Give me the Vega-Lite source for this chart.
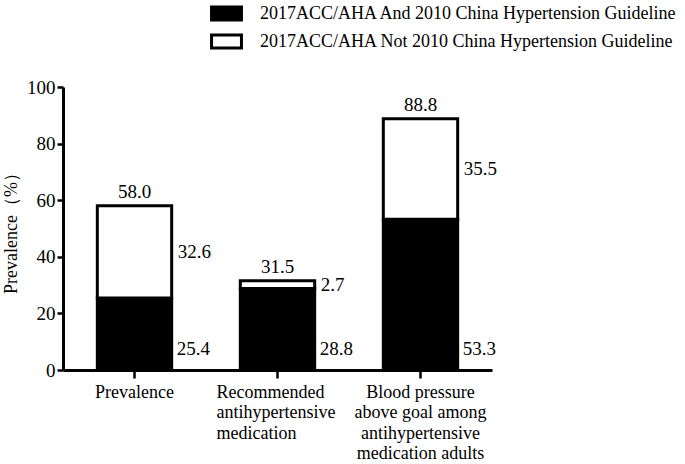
{
  "$schema": "https://vega.github.io/schema/vega-lite/v6.json",
  "width": 429,
  "height": 283,
  "autosize": {"type": "none"},
  "padding": {"left": 63, "top": 87, "right": 193, "bottom": 94},
  "background": "white",
  "config": {
    "font": "Liberation Serif",
    "view": {"stroke": null},
    "axis": {"grid": false, "labelFont": "Liberation Serif", "titleFont": "Liberation Serif"},
    "legend": {"labelFont": "Liberation Serif"},
    "text": {"font": "Liberation Serif"}
  },
  "data": {
    "values": [
      {"cat": "Prevalence", "series": "2017ACC/AHA And 2010 China Hypertension Guideline", "value": 25.4},
      {"cat": "Prevalence", "series": "2017ACC/AHA Not 2010 China Hypertension Guideline", "value": 32.6},
      {"cat": "Recommended|antihypertensive|medication", "series": "2017ACC/AHA And 2010 China Hypertension Guideline", "value": 28.8},
      {"cat": "Recommended|antihypertensive|medication", "series": "2017ACC/AHA Not 2010 China Hypertension Guideline", "value": 2.7},
      {"cat": "Blood pressure|above goal among|antihypertensive|medication adults", "series": "2017ACC/AHA And 2010 China Hypertension Guideline", "value": 53.3},
      {"cat": "Blood pressure|above goal among|antihypertensive|medication adults", "series": "2017ACC/AHA Not 2010 China Hypertension Guideline", "value": 35.5}
    ]
  },
  "encoding": {
    "x": {
      "field": "cat",
      "type": "nominal",
      "sort": null,
      "scale": {"paddingInner": 0.48, "paddingOuter": 0.24},
      "axis": {
        "title": null,
        "labelAngle": 0,
        "labelExpr": "split(datum.label, '|')",
        "labelFontSize": 18,
        "labelLineHeight": 20.5,
        "labelColor": "black",
        "labelPadding": 5,
        "labelBaseline": "top",
        "labelAlign": {"condition": {"test": "indexof(datum.value, 'Recommended') == 0", "value": "left"}, "value": "center"},
        "labelOffset": {"condition": {"test": "indexof(datum.value, 'Recommended') == 0", "value": -61}, "value": 0},
        "domainColor": "black",
        "domainWidth": 3,
        "tickColor": "black",
        "tickWidth": 2.5,
        "tickSize": 8
      }
    }
  },
  "layer": [
    {
      "mark": {"type": "bar", "stroke": "black", "strokeWidth": 3},
      "encoding": {
        "y": {
          "field": "value",
          "type": "quantitative",
          "stack": "zero",
          "scale": {"domain": [0, 100], "nice": false},
          "axis": {
            "title": "Prevalence（%）",
            "titleFontSize": 18,
            "titleFontWeight": "normal",
            "titleColor": "black",
            "titlePadding": 6,
            "values": [0, 20, 40, 60, 80, 100],
            "labelFontSize": 19,
            "labelColor": "black",
            "labelPadding": 2,
            "domainColor": "black",
            "domainWidth": 3,
            "tickColor": "black",
            "tickWidth": 2.5,
            "tickSize": 6
          }
        },
        "fill": {
          "field": "series",
          "type": "nominal",
          "scale": {
            "domain": ["2017ACC/AHA And 2010 China Hypertension Guideline", "2017ACC/AHA Not 2010 China Hypertension Guideline"],
            "range": ["black", "white"]
          },
          "legend": {
            "title": null,
            "orient": "none",
            "legendX": 149,
            "legendY": -88,
            "direction": "vertical",
            "labelFontSize": 18,
            "labelColor": "black",
            "labelOffset": 19,
            "labelLimit": 600,
            "rowPadding": 1,
            "symbolType": "M-1.15,-0.5H1.15V0.5H-1.15Z",
            "symbolSize": 676,
            "symbolStrokeColor": "black",
            "symbolStrokeWidth": 3,
            "symbolOpacity": 1
          }
        },
        "order": {"field": "series", "sort": "ascending"}
      }
    },
    {
      "transform": [
        {"stack": "value", "groupby": ["cat"], "sort": [{"field": "series", "order": "ascending"}], "as": ["v0", "v1"]},
        {"calculate": "(datum.v0 + datum.v1) / 2", "as": "mid"},
        {"filter": "indexof(datum.series, 'Not') >= 0"}
      ],
      "mark": {"type": "text", "align": "left", "baseline": "middle", "dx": 6, "fontSize": 19, "font": "Liberation Serif", "color": "black"},
      "encoding": {
        "x": {"field": "cat", "type": "nominal", "sort": null, "bandPosition": 1},
        "y": {"field": "mid", "type": "quantitative"},
        "text": {"field": "value", "type": "quantitative", "format": ".1f"}
      }
    },
    {
      "transform": [
        {"filter": "indexof(datum.series, 'And') >= 0"}
      ],
      "mark": {"type": "text", "align": "left", "baseline": "middle", "dx": 5, "fontSize": 19, "font": "Liberation Serif", "color": "black"},
      "encoding": {
        "x": {"field": "cat", "type": "nominal", "sort": null, "bandPosition": 1},
        "y": {"datum": 7.5, "type": "quantitative"},
        "text": {"field": "value", "type": "quantitative", "format": ".1f"}
      }
    },
    {
      "mark": {"type": "text", "align": "center", "baseline": "bottom", "dy": -4, "fontSize": 19, "font": "Liberation Serif", "color": "black"},
      "encoding": {
        "y": {"aggregate": "sum", "field": "value", "type": "quantitative"},
        "text": {"aggregate": "sum", "field": "value", "type": "quantitative", "format": ".1f"}
      }
    }
  ]
}
